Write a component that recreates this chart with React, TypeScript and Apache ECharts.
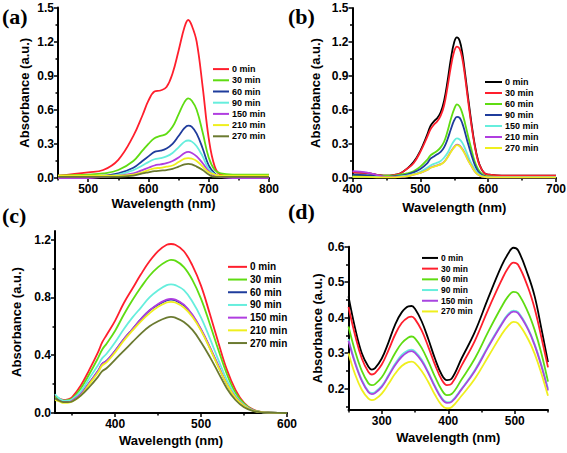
import React, { useEffect, useRef } from "react";
import * as echarts from "echarts";

// ---------- Panel (a) ----------
const aWave = [450, 500, 525, 550, 575, 590, 600, 610, 620, 630, 640, 650, 660, 666, 672, 680, 690, 700, 710, 720, 740, 800];
const aNames = ["0 min", "30 min", "60 min", "90 min", "150 min", "210 min", "270 min"];
const aColors = ["#ff1f2d", "#5fdc12", "#1f3c9c", "#66eedd", "#b03ee0", "#efef1e", "#6b7a30"];
const a0 = [0.02, 0.05, 0.07, 0.16, 0.37, 0.55, 0.68, 0.76, 0.77, 0.8, 0.92, 1.12, 1.33, 1.39, 1.34, 1.2, 0.8, 0.35, 0.1, 0.03, 0.02, 0.01];
const a30 = [0.02, 0.03, 0.04, 0.07, 0.15, 0.24, 0.3, 0.35, 0.37, 0.39, 0.45, 0.56, 0.67, 0.7, 0.68, 0.6, 0.4, 0.18, 0.07, 0.04, 0.03, 0.03];
const a60 = [0.0, 0.01, 0.02, 0.04, 0.09, 0.15, 0.19, 0.23, 0.24, 0.26, 0.3, 0.37, 0.44, 0.46, 0.45, 0.39, 0.26, 0.11, 0.04, 0.01, 0.01, 0.0];
const a90 = [0.0, 0.01, 0.01, 0.03, 0.07, 0.11, 0.14, 0.165, 0.175, 0.19, 0.22, 0.27, 0.32, 0.33, 0.32, 0.28, 0.19, 0.08, 0.03, 0.01, 0.01, 0.0];
const a150 = [0.0, 0.0, 0.01, 0.02, 0.04, 0.07, 0.09, 0.11, 0.12, 0.13, 0.15, 0.18, 0.22, 0.23, 0.22, 0.19, 0.13, 0.06, 0.02, 0.01, 0.0, 0.0];
const a210 = [0.02, 0.02, 0.02, 0.02, 0.03, 0.05, 0.07, 0.085, 0.09, 0.1, 0.11, 0.14, 0.17, 0.175, 0.17, 0.15, 0.1, 0.05, 0.03, 0.02, 0.02, 0.02];
const a270 = [0.01, 0.01, 0.01, 0.01, 0.02, 0.04, 0.05, 0.06, 0.065, 0.07, 0.08, 0.1, 0.12, 0.125, 0.12, 0.1, 0.07, 0.03, 0.01, 0.01, 0.01, 0.01];
const aSeries = [a0, a30, a60, a90, a150, a210, a270];

// ---------- Panel (b) ----------
const bWave = [400, 420, 440, 450, 460, 470, 480, 490, 500, 510, 515, 520, 525, 530, 535, 540, 545, 550, 554, 558, 562, 566, 570, 575, 580, 585, 590, 595, 600, 620, 650, 700];
const bNames = ["0 min", "30 min", "60 min", "90 min", "150 min", "210 min", "270 min"];
const bColors = ["#000000", "#ff1f2d", "#5fdc12", "#1f3c9c", "#66eedd", "#b03ee0", "#efef1e"];
const b0 = [0.05, 0.045, 0.025, 0.02, 0.025, 0.04, 0.08, 0.14, 0.24, 0.38, 0.46, 0.5, 0.53, 0.58, 0.68, 0.85, 1.05, 1.2, 1.24, 1.21, 1.1, 0.92, 0.73, 0.5, 0.3, 0.16, 0.08, 0.04, 0.03, 0.02, 0.02, 0.02];
const b30 = [0.05, 0.045, 0.025, 0.02, 0.025, 0.04, 0.08, 0.13, 0.23, 0.36, 0.43, 0.47, 0.5, 0.55, 0.64, 0.8, 0.98, 1.12, 1.16, 1.14, 1.05, 0.89, 0.7, 0.48, 0.29, 0.15, 0.08, 0.04, 0.03, 0.02, 0.02, 0.02];
const b60 = [0.02, 0.02, 0.02, 0.02, 0.02, 0.03, 0.04, 0.06, 0.1, 0.16, 0.2, 0.22, 0.24, 0.27, 0.32, 0.41, 0.52, 0.61, 0.65, 0.63, 0.57, 0.48, 0.38, 0.26, 0.15, 0.08, 0.04, 0.02, 0.015, 0.01, 0.01, 0.01];
const b90 = [0.03, 0.025, 0.015, 0.01, 0.015, 0.02, 0.03, 0.05, 0.08, 0.13, 0.17, 0.19, 0.21, 0.23, 0.27, 0.34, 0.43, 0.51, 0.54, 0.53, 0.48, 0.4, 0.31, 0.21, 0.12, 0.06, 0.03, 0.015, 0.01, 0.01, 0.01, 0.01];
const b150 = [0.01, 0.01, 0.01, 0.01, 0.01, 0.015, 0.02, 0.035, 0.055, 0.09, 0.11, 0.125, 0.135, 0.15, 0.18, 0.22, 0.28, 0.33, 0.35, 0.34, 0.31, 0.26, 0.2, 0.13, 0.08, 0.04, 0.02, 0.01, 0.01, 0.01, 0.01, 0.01];
const b210 = [0.06, 0.05, 0.02, 0.01, 0.01, 0.01, 0.015, 0.03, 0.045, 0.072, 0.092, 0.102, 0.112, 0.122, 0.143, 0.183, 0.233, 0.274, 0.295, 0.285, 0.255, 0.213, 0.163, 0.11, 0.06, 0.03, 0.015, 0.01, 0.005, 0.005, 0.005, 0.005];
const b270 = [0.01, 0.01, 0.005, 0.005, 0.005, 0.01, 0.015, 0.03, 0.045, 0.07, 0.09, 0.1, 0.11, 0.12, 0.14, 0.18, 0.23, 0.27, 0.29, 0.28, 0.25, 0.21, 0.16, 0.11, 0.06, 0.03, 0.015, 0.01, 0.005, 0.005, 0.005, 0.005];
const bSeries = [b0, b30, b60, b90, b150, b210, b270];

// ---------- Panel (c) ----------
const cWave = [330, 335, 340, 345, 350, 360, 370, 380, 385, 390, 400, 410, 420, 430, 440, 450, 460, 465, 470, 480, 490, 500, 510, 520, 530, 540, 550, 560, 570, 580, 600];
const cNames = ["0 min", "30 min", "60 min", "90 min", "150 min", "210 min", "270 min"];
const cColors = ["#ff1f2d", "#5fdc12", "#1f3c9c", "#66eedd", "#b03ee0", "#efef1e", "#6b7a30"];
const c0 = [0.12, 0.1, 0.09, 0.095, 0.11, 0.19, 0.3, 0.42, 0.49, 0.54, 0.64, 0.76, 0.86, 0.96, 1.05, 1.12, 1.165, 1.17, 1.165, 1.12, 1.02, 0.88, 0.69, 0.49, 0.3, 0.16, 0.07, 0.025, 0.008, 0.003, 0];
const c30 = [0.11, 0.095, 0.085, 0.09, 0.1, 0.17, 0.27, 0.38, 0.44, 0.48, 0.57, 0.68, 0.78, 0.87, 0.95, 1.01, 1.05, 1.06, 1.055, 1.01, 0.92, 0.79, 0.62, 0.44, 0.27, 0.14, 0.065, 0.022, 0.007, 0.003, 0];
const c60 = [0.1, 0.085, 0.075, 0.075, 0.085, 0.13, 0.21, 0.29, 0.34, 0.36, 0.43, 0.51, 0.58, 0.65, 0.71, 0.75, 0.78, 0.785, 0.78, 0.745, 0.675, 0.575, 0.455, 0.325, 0.2, 0.11, 0.05, 0.018, 0.006, 0.002, 0];
const c90 = [0.13, 0.1, 0.085, 0.085, 0.095, 0.15, 0.24, 0.33, 0.38, 0.41, 0.49, 0.58, 0.66, 0.73, 0.8, 0.85, 0.885, 0.89, 0.885, 0.85, 0.77, 0.66, 0.52, 0.37, 0.23, 0.12, 0.055, 0.02, 0.006, 0.002, 0];
const c150 = [0.1, 0.085, 0.075, 0.075, 0.085, 0.13, 0.21, 0.29, 0.34, 0.36, 0.43, 0.51, 0.58, 0.65, 0.71, 0.755, 0.785, 0.79, 0.785, 0.75, 0.68, 0.58, 0.46, 0.33, 0.2, 0.11, 0.05, 0.018, 0.006, 0.002, 0];
const c210 = [0.09, 0.08, 0.07, 0.07, 0.08, 0.12, 0.2, 0.28, 0.33, 0.35, 0.42, 0.5, 0.57, 0.635, 0.69, 0.735, 0.765, 0.77, 0.765, 0.73, 0.665, 0.57, 0.45, 0.32, 0.2, 0.105, 0.048, 0.017, 0.006, 0.002, 0];
const c270 = [0.1, 0.085, 0.075, 0.075, 0.08, 0.12, 0.18, 0.25, 0.29, 0.31, 0.37, 0.43, 0.49, 0.55, 0.6, 0.635, 0.66, 0.665, 0.66, 0.63, 0.575, 0.49, 0.39, 0.28, 0.17, 0.09, 0.04, 0.015, 0.005, 0.002, 0];
const cSeries = [c0, c30, c60, c90, c150, c210, c270];

// ---------- Panel (d) ----------
const dWave = [250, 260, 270, 280, 285, 290, 300, 310, 320, 330, 340, 345, 350, 360, 370, 380, 390, 398, 405, 420, 440, 460, 480, 490, 498, 505, 520, 530, 540, 550];
const dNames = ["0 min", "30 min", "60 min", "90 min", "150 min", "270 min"];
const dColors = ["#000000", "#ff1f2d", "#5fdc12", "#66eedd", "#a845e0", "#efef1e"];
const d0 = [0.46, 0.37, 0.3, 0.262, 0.254, 0.258, 0.285, 0.33, 0.38, 0.415, 0.432, 0.433, 0.425, 0.39, 0.34, 0.285, 0.24, 0.224, 0.228, 0.285, 0.36, 0.455, 0.545, 0.58, 0.597, 0.59, 0.52, 0.46, 0.37, 0.275];
const d30 = [0.43, 0.35, 0.285, 0.247, 0.24, 0.244, 0.268, 0.308, 0.352, 0.385, 0.401, 0.403, 0.396, 0.364, 0.318, 0.268, 0.226, 0.21, 0.214, 0.265, 0.335, 0.423, 0.505, 0.54, 0.555, 0.549, 0.485, 0.425, 0.345, 0.26];
const d60 = [0.375, 0.305, 0.25, 0.215, 0.21, 0.213, 0.232, 0.265, 0.3, 0.328, 0.344, 0.347, 0.342, 0.315, 0.277, 0.234, 0.197, 0.182, 0.185, 0.226, 0.285, 0.36, 0.43, 0.46, 0.473, 0.468, 0.415, 0.365, 0.3, 0.22];
const d90 = [0.34, 0.275, 0.225, 0.193, 0.188, 0.191, 0.208, 0.238, 0.27, 0.295, 0.308, 0.31, 0.305, 0.282, 0.247, 0.208, 0.175, 0.162, 0.165, 0.2, 0.253, 0.32, 0.383, 0.41, 0.42, 0.416, 0.37, 0.325, 0.268, 0.2];
const d150 = [0.335, 0.271, 0.222, 0.19, 0.185, 0.188, 0.205, 0.235, 0.266, 0.29, 0.304, 0.306, 0.301, 0.278, 0.244, 0.205, 0.172, 0.16, 0.163, 0.198, 0.25, 0.317, 0.38, 0.407, 0.417, 0.413, 0.367, 0.322, 0.264, 0.195];
const d270 = [0.3, 0.24, 0.197, 0.172, 0.168, 0.17, 0.186, 0.213, 0.242, 0.264, 0.275, 0.276, 0.272, 0.25, 0.219, 0.183, 0.154, 0.145, 0.148, 0.18, 0.228, 0.29, 0.352, 0.377, 0.388, 0.384, 0.34, 0.298, 0.243, 0.18];
const dSeries = [d0, d30, d60, d90, d150, d270];

// ---------- Ticks ----------
const aXMajor = [500, 600, 700, 800];
const aXMinor = [450, 550, 650, 750];
const aYMajor = [0, 0.3, 0.6, 0.9, 1.2, 1.5];
const aYMinor = [0.15, 0.45, 0.75, 1.05, 1.35];
const bXMajor = [400, 500, 600, 700];
const bXMinor = [450, 550, 650];
const bYMajor = [0, 0.3, 0.6, 0.9, 1.2, 1.5];
const bYMinor = [0.15, 0.45, 0.75, 1.05, 1.35];
const cXMajor = [400, 500, 600];
const cXMinor = [350, 450, 550];
const cYMajor = [0, 0.4, 0.8, 1.2];
const cYMinor = [0.2, 0.6, 1.0];
const dXMajor = [300, 400, 500];
const dXMinor = [250, 350, 450, 550];
const dYMajor = [0.2, 0.3, 0.4, 0.5, 0.6];
const dYMinor = [0.15, 0.25, 0.35, 0.45, 0.55];

const FONT = "'Liberation Sans', Arial, sans-serif";

type PanelCfg = {
  key: string;
  grid: { left: number; top: number; width: number; height: number };
  xMin: number; xMax: number; yMin: number; yMax: number;
  xMajor: number[]; xMinor: number[]; yMajor: number[]; yMinor: number[];
  yDec: number;
  xNameGap: number; yNameGap: number;
  wave: number[]; series: number[][]; names: string[]; colors: string[];
  legend: { left: number; top: number; fontSize: number; lineHeight: number; itemWidth: number };
};

const panels: PanelCfg[] = [
  {
    key: "a", grid: { left: 58, top: 7.5, width: 211, height: 170.5 },
    xMin: 450, xMax: 800, yMin: 0, yMax: 1.5,
    xMajor: aXMajor, xMinor: aXMinor, yMajor: aYMajor, yMinor: aYMinor, yDec: 1,
    xNameGap: 19, yNameGap: 27,
    wave: aWave, series: aSeries, names: aNames, colors: aColors,
    legend: { left: 213, top: 63.5, fontSize: 9, lineHeight: 11.2, itemWidth: 16 },
  },
  {
    key: "b", grid: { left: 352.5, top: 8, width: 203.5, height: 170 },
    xMin: 400, xMax: 700, yMin: 0, yMax: 1.5,
    xMajor: bXMajor, xMinor: bXMinor, yMajor: bYMajor, yMinor: bYMinor, yDec: 1,
    xNameGap: 23, yNameGap: 31,
    wave: bWave, series: bSeries, names: bNames, colors: bColors,
    legend: { left: 485, top: 76.5, fontSize: 9, lineHeight: 11, itemWidth: 17 },
  },
  {
    key: "c", grid: { left: 55, top: 231, width: 232, height: 182 },
    xMin: 330, xMax: 600, yMin: 0, yMax: 1.26,
    xMajor: cXMajor, xMinor: cXMinor, yMajor: cYMajor, yMinor: cYMinor, yDec: 1,
    xNameGap: 21, yNameGap: 32,
    wave: cWave, series: cSeries, names: cNames, colors: cColors,
    legend: { left: 228, top: 260.5, fontSize: 10, lineHeight: 12.7, itemWidth: 19 },
  },
  {
    key: "d", grid: { left: 348.5, top: 246.7, width: 199.5, height: 163.3 },
    xMin: 250, xMax: 550, yMin: 0.14, yMax: 0.6,
    xMajor: dXMajor, xMinor: dXMinor, yMajor: dYMajor, yMinor: dYMinor, yDec: 1,
    xNameGap: 21, yNameGap: 24,
    wave: dWave, series: dSeries, names: dNames, colors: dColors,
    legend: { left: 422, top: 252.6, fontSize: 8.5, lineHeight: 10.7, itemWidth: 16 },
  },
];

const labelLetters = [
  { text: "(a)", x: 2, y: 5 },
  { text: "(b)", x: 288, y: 5 },
  { text: "(c)", x: 2, y: 204 },
  { text: "(d)", x: 288, y: 200 },
];

function buildOption() {
  const grids: any[] = [];
  const xAxes: any[] = [];
  const yAxes: any[] = [];
  const series: any[] = [];
  const legends: any[] = [];
  const axisLine = { show: true, onZero: false, lineStyle: { color: "#000", width: 2 } };
  const nameStyle = { fontFamily: FONT, fontWeight: "bold", fontSize: 13, color: "#000" };
  const labelStyle = { fontFamily: FONT, fontWeight: "bold", fontSize: 12, color: "#000" };

  panels.forEach((p, gi) => {
    grids.push({ ...p.grid, containLabel: false, outerBoundsMode: "none" });
    const xi = xAxes.length;
    xAxes.push({
      gridIndex: gi, type: "value", position: "bottom", min: p.xMin, max: p.xMax,
      axisLine,
      axisTick: { show: true, inside: false, length: 4, lineStyle: { color: "#000", width: 1.5 }, customValues: p.xMajor },
      axisLabel: { ...labelStyle, margin: 5, customValues: p.xMajor, formatter: (v: number) => String(Math.round(v)) },
      splitLine: { show: false },
      name: "Wavelength (nm)", nameLocation: "middle", nameGap: p.xNameGap, nameTextStyle: nameStyle,
    });
    xAxes.push({
      gridIndex: gi, type: "value", position: "bottom", min: p.xMin, max: p.xMax,
      axisLine: { show: false }, axisLabel: { show: false }, splitLine: { show: false },
      axisTick: { show: true, inside: false, length: 2.5, lineStyle: { color: "#000", width: 1.5 }, customValues: p.xMinor },
    });
    const yi = yAxes.length;
    yAxes.push({
      gridIndex: gi, type: "value", position: "left", min: p.yMin, max: p.yMax,
      axisLine,
      axisTick: { show: true, inside: false, length: 4, lineStyle: { color: "#000", width: 1.5 }, customValues: p.yMajor },
      axisLabel: { ...labelStyle, margin: 4, customValues: p.yMajor, formatter: (v: number) => v.toFixed(p.yDec) },
      splitLine: { show: false },
      name: "Absorbance (a.u.)", nameLocation: "middle", nameGap: p.yNameGap, nameTextStyle: nameStyle,
    });
    yAxes.push({
      gridIndex: gi, type: "value", position: "left", min: p.yMin, max: p.yMax,
      axisLine: { show: false }, axisLabel: { show: false }, splitLine: { show: false },
      axisTick: { show: true, inside: false, length: 2.5, lineStyle: { color: "#000", width: 1.5 }, customValues: p.yMinor },
    });
    const legendNames: string[] = [];
    p.series.forEach((vals, si) => {
      const name = p.key + "|" + p.names[si];
      legendNames.push(name);
      series.push({
        type: "line", name, xAxisIndex: xi, yAxisIndex: yi,
        data: p.wave.map((w, i) => [w, vals[i]]),
        smooth: 0.4, showSymbol: false, symbol: "none",
        lineStyle: { width: 1.8, color: p.colors[si] },
        itemStyle: { color: p.colors[si] },
        z: 2 + si,
      });
    });
    legends.push({
      show: true, orient: "vertical", left: p.legend.left, top: p.legend.top, padding: 0,
      itemGap: 0, itemWidth: p.legend.itemWidth, itemHeight: 2, icon: "rect",
      selectedMode: false, data: legendNames,
      formatter: (n: string) => n.split("|")[1],
      textStyle: { fontFamily: FONT, fontWeight: "bold", fontSize: p.legend.fontSize, lineHeight: p.legend.lineHeight, color: "#000", padding: [0, 0, 0, -2] },
    });
  });

  const graphic = labelLetters.map((l) => ({
    type: "text", left: l.x, top: l.y,
    style: { text: l.text, font: "bold 22px 'Liberation Serif', 'Times New Roman', serif", fill: "#000" },
  }));

  return {
    animation: false,
    backgroundColor: "#ffffff",
    grid: grids,
    xAxis: xAxes,
    yAxis: yAxes,
    series,
    legend: legends,
    graphic,
  };
}

export default function App() {
  const ref = useRef<HTMLDivElement>(null);
  useEffect(() => {
    if (!ref.current) return;
    const chart = echarts.init(ref.current, undefined, { renderer: "svg" });
    chart.setOption(buildOption() as any);
    return () => chart.dispose();
  }, []);
  return (
    <div
      ref={ref}
      style={{ position: "absolute", left: 0, top: 0, width: 567, height: 453, background: "#fff" }}
    />
  );
}
